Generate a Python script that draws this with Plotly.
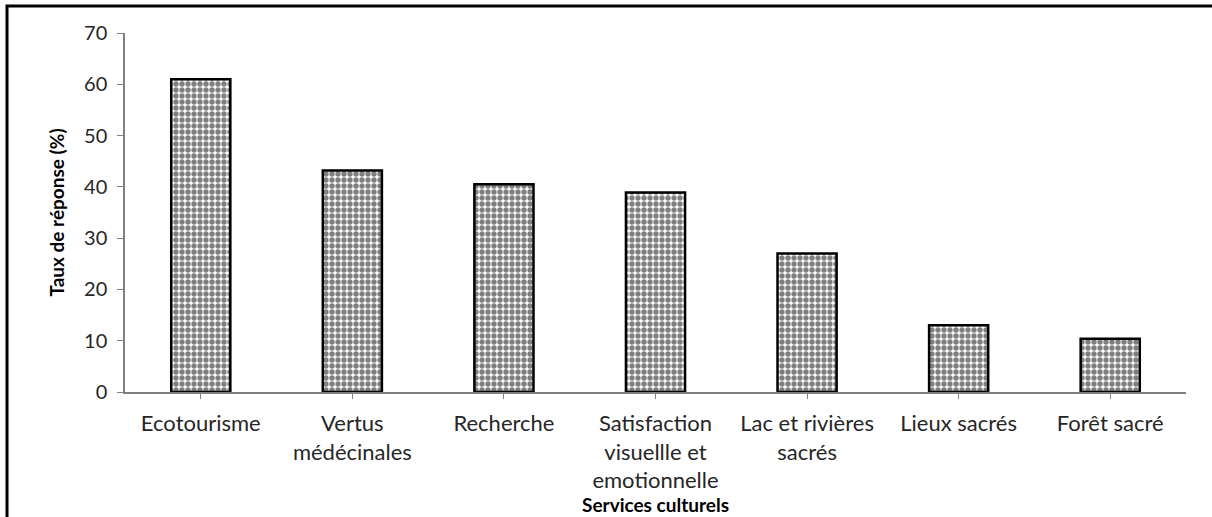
import plotly.graph_objects as go

categories = [
    "Ecotourisme",
    "Vertus<br>médécinales",
    "Recherche",
    "Satisfaction<br>visuellle et<br>emotionnelle",
    "Lac et rivières<br>sacrés",
    "Lieux sacrés",
    "Forêt sacré",
]
taux = [61, 43.2, 40.5, 38.9, 27, 13, 10.4]

y_ticks = [0, 10, 20, 30, 40, 50, 60, 70]

FONT = "Lato, 'Noto Sans', sans-serif"

fig = go.Figure()
fig.add_trace(
    go.Bar(
        x=categories,
        y=taux,
        width=0.39,
        marker=dict(
            color="white",
            line=dict(color="black", width=2.5),
            pattern=dict(shape=".", fgcolor="black", bgcolor="white",
                         size=6, solidity=0.62),
        ),
    )
)

W, H = 1212, 517
L, R, T, B = 125, 26, 33, 125
pw, ph = W - L - R, H - T - B

fig.update_layout(
    width=W,
    height=H,
    margin=dict(l=L, r=R, t=T, b=B),
    paper_bgcolor="white",
    plot_bgcolor="white",
    showlegend=False,
    font=dict(family=FONT, size=17, color="#262626"),
    xaxis=dict(
        showline=True,
        linecolor="#7f7f7f",
        linewidth=1.5,
        ticks="outside",
        ticklen=5,
        tickcolor="#7f7f7f",
        tickfont=dict(size=22),
        ticklabelstandoff=6,
        automargin=False,
        title=dict(text="<b>Services culturels</b>",
                   font=dict(size=19, color="black"), standoff=0),
    ),
    yaxis=dict(
        range=[0, 70],
        tickvals=y_ticks,
        showline=True,
        linecolor="#7f7f7f",
        linewidth=1.5,
        ticks="outside",
        ticklen=6,
        tickcolor="#7f7f7f",
        showgrid=False,
        zeroline=False,
        automargin=False,
        tickfont=dict(size=20),
        ticklabelstandoff=6,
        title=dict(text="<b>Taux de réponse (%)</b>",
                   font=dict(size=19, color="black"), standoff=14),
    ),
)

# outer frame of the picture
fig.add_shape(
    type="rect",
    xref="paper", yref="paper",
    x0=(7 - L) / pw, x1=(W + 5 - L) / pw,
    y0=(T + ph - H - 5) / ph, y1=(T + ph - 6) / ph,
    line=dict(color="black", width=3),
)

fig.write_html("out.html", config={"displayModeBar": False},
               post_script="document.body.style.margin='0';")
